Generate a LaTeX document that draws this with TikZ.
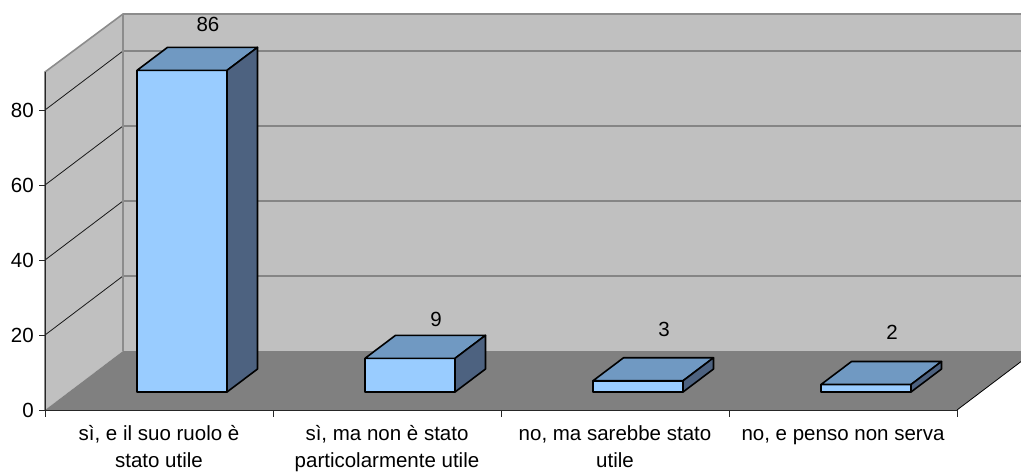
\documentclass[tikz,border=0pt]{standalone}
\usepackage{fontspec}
\setmainfont{Liberation Sans}
\definecolor{wallgray}{HTML}{C0C0C0}
\definecolor{floorgray}{HTML}{808080}
\definecolor{edgegray}{HTML}{8C8C8C}
\definecolor{barfront}{HTML}{99CCFF}
\definecolor{bartop}{HTML}{7099C2}
\definecolor{barside}{HTML}{4D6280}

\begin{document}
\begin{tikzpicture}[x=1pt,y=-1pt,
  edge/.style={draw=edgegray,line width=1.6pt},
  gridline/.style={draw=black!90,line width=0.8pt},
  axis/.style={draw=black!85,line width=1pt},
  face/.style={draw=black,line width=1.6pt,line join=round},
  txt/.style={font=\fontsize{20.5}{27}\selectfont,inner sep=0pt}]
  \useasboundingbox (0,0) rectangle (1021,472);
  % walls and floor
  \fill[wallgray] (123,14) rectangle (1021,351);
  \fill[wallgray] (45,72) -- (123,14) -- (123,351) -- (45,410) -- cycle;
  \fill[floorgray] (45,410) -- (123,351) -- (1021,351) -- (1021,361.6) -- (957,410) -- cycle;
  \foreach \v in {20,40,60,80}
    \draw[gridline] (45,410-3.75*\v) -- (123,351-3.75*\v) -- (1021,351-3.75*\v);
  \draw[edge] (45,410) -- (45,72) -- (123,14) -- (1021,14);
  \draw[edge] (123,14) -- (123,351);
  % axes
  \coordinate (o) at (45,410);
  \coordinate (e) at (957,410);
  \coordinate (f) at (1021,361.6);
  \draw[axis] (45,410) -- (45,72);
  \draw[axis] (o) -- (e);
  \draw[line width=0.8pt] (e) -- (f);
  \foreach \v in {0,20,...,80} {
    \draw[axis] (39,410-3.75*\v) -- (45,410-3.75*\v);
    \node[txt,anchor=east] (y\v) at (34,410-3.75*\v) {\v};
  }
  \foreach \k in {0,...,4}
    \draw[axis] (45+228*\k,410) -- (45+228*\k,417);
  % bars
  \foreach \c/\v/\ly/\n in {182/86/24/a, 410/9/319/b, 638/3/329/c, 866/2/332/d} {
    \pgfmathsetmacro\t{392-3.74*\v}
    \filldraw[face,fill=barfront] (\c-45,392) rectangle (\c+45,\t);
    \filldraw[face,fill=bartop] (\c-45,\t) -- (\c-14.5,\t-23) -- (\c+75.5,\t-23) -- (\c+45,\t) -- cycle;
    \filldraw[face,fill=barside] (\c+45,392) -- (\c+75.5,369) -- (\c+75.5,\t-23) -- (\c+45,\t) -- cycle;
    \node[txt] (val\n) at (\c+26,\ly) {\v};
  }
  % category labels
  \node[txt,align=center,anchor=base] (cat1) at (159,467) {sì, e il suo ruolo è\\stato utile};
  \node[txt,align=center,anchor=base] (cat2) at (387,467) {sì, ma non è stato\\particolarmente utile};
  \node[txt,align=center,anchor=base] (cat3) at (615,467) {no, ma sarebbe stato\\utile};
  \node[txt,align=center,anchor=base] (cat4) at (843,440) {no, e penso non serva};
\end{tikzpicture}
\end{document}
